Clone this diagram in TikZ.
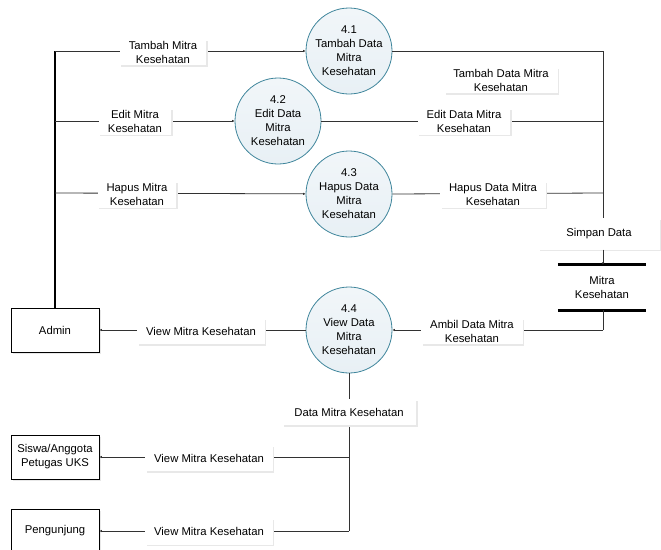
\documentclass[tikz,border=0pt]{standalone}
\usepackage{fontspec}
\setmainfont{Liberation Sans}
\usetikzlibrary{arrows.meta,shadows}
\definecolor{procfill}{RGB}{232,240,245}
\definecolor{procline}{RGB}{64,134,156}
\definecolor{shadowgray}{RGB}{232,232,232}
\definecolor{linegray}{RGB}{50,50,50}
\begin{document}
\begin{tikzpicture}[x=1pt,y=-1pt,
  every node/.style={font=\fontsize{11.3}{14}\selectfont},
  proc/.style={circle,draw=procline,line width=0.8pt,top color=procfill!60,bottom color=procfill,minimum size=86pt,inner sep=0pt,align=center},
  entity/.style={draw=black,line width=0.9pt,fill=white,minimum width=88pt,align=center,inner sep=1pt,
     drop shadow={shadow xshift=1.5pt,shadow yshift=-1.5pt,fill=shadowgray,opacity=1}},
  lab/.style={fill=white,align=center,inner xsep=9pt,inner ysep=1.5pt,minimum height=26pt,
     drop shadow={shadow xshift=1.5pt,shadow yshift=-1.5pt,fill=shadowgray,opacity=1}},
  flow/.style={draw=linegray,line width=0.8pt,-{Latex[length=2.5pt,width=2.5pt]}},
  plain/.style={draw=linegray,line width=0.8pt}
]
\useasboundingbox (0,0) rectangle (661,549);

% entities
\node[entity,minimum height=44pt] (admin) at (55,330) {Admin};
\node[entity,minimum height=44pt] (siswa) at (55,457) {Siswa/Anggota\\Petugas UKS};
\node[entity,minimum height=44pt] (peng) at (55,531) {Pengunjung};

% processes
\node[proc] (p1) at (349,51) {4.1\\Tambah Data\\Mitra\\Kesehatan};
\node[proc] (p2) at (278,121) {4.2\\Edit Data\\Mitra\\Kesehatan};
\node[proc] (p3) at (349,194) {4.3\\Hapus Data\\Mitra\\Kesehatan};
\node[proc] (p4) at (349,330) {4.4\\View Data\\Mitra\\Kesehatan};

% data store
\node[minimum width=88pt,minimum height=45pt,align=center,inner sep=0pt] (store) at (602,287.5) {Mitra\\Kesehatan};
\draw[line width=3pt] (store.north west) -- (store.north east);
\draw[line width=3pt] (store.south west) -- (store.south east);

% coordinates
\coordinate (a1) at (55,51);
\coordinate (a2) at (55,121);
\coordinate (a3) at (55,193);
\coordinate (r1) at (603,51);
\coordinate (r2) at (603,121);
\coordinate (r3) at (603,193);
\coordinate (s1) at (603,330);
\coordinate (d1) at (349,457);
\coordinate (d2) at (349,531);

% admin trunk
\draw[draw=black,line width=1.15pt] (admin.north) -- (a1);
\draw[flow] (a1) -- (p1);
\draw[flow] (a2) -- (p2);
\draw[flow] (a3) -- (p3);

% right side
\draw[plain] (p1.east) -- (r1);
\draw[plain] (p2.east) -- (r2);
\draw[plain] (p3.east) -- (r3);
\node[lab,minimum width=122pt,minimum height=31pt] (simpan) at (599,234) {Simpan Data};
\draw[plain] (r1) -- (simpan.north -| r1);
\draw[flow] (simpan.south -| r1) -- (store.north -| r1);

\draw[plain] (store.south -| s1) -- (s1);
\draw[flow] (s1) -- (p4.east);
\draw[flow] (p4.west) -- (admin.east);

\draw[plain] (p4.south) -- (d2);
\draw[flow] (d1) -- (siswa.east);
\draw[flow] (d2) -- (peng.east);

% labels
\node[lab] (l1) at (163,52) {Tambah Mitra\\Kesehatan};
\node[lab] (l2) at (135,121.5) {Edit Mitra\\Kesehatan};
\node[lab] (l3) at (137,194.5) {Hapus Mitra\\Kesehatan};
\node[lab] (l4) at (501,80) {Tambah Data Mitra\\Kesehatan};
\node[lab] (l5) at (464,121.5) {Edit Data Mitra\\Kesehatan};
\node[lab] (l6) at (493,194.5) {Hapus Data Mitra\\Kesehatan};
\node[lab] (l7) at (472,331) {Ambil Data Mitra\\Kesehatan};
\node[lab] (l8) at (201,331) {View Mitra Kesehatan};
\node[lab,minimum width=134pt] (l9) at (349,412) {Data Mitra Kesehatan};
\node[lab] (l10) at (209,458) {View Mitra Kesehatan};
\node[lab] (l11) at (209,531.5) {View Mitra Kesehatan};
\end{tikzpicture}
\end{document}
